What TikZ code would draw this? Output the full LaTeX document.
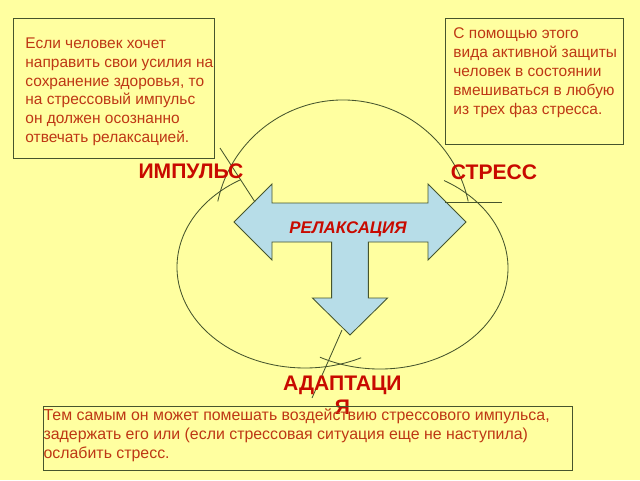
\documentclass[tikz,border=0pt]{standalone}
\usepackage{fontspec}
\setmainfont{Liberation Sans}
\definecolor{slide}{RGB}{255,255,160}
\definecolor{edge}{RGB}{70,85,45}
\definecolor{notered}{RGB}{190,55,20}
\definecolor{phasered}{RGB}{200,10,0}
\definecolor{arrowblue}{RGB}{183,221,232}

\begin{document}
\begin{tikzpicture}
  [line width=.6pt,draw=edge,every node/.style={inner sep=0pt},
   note/.style={align=left,anchor=north west,text=notered,
     font=\fontsize{11}{13.5}\selectfont},
   phase/.style={text=phasered,font=\fontsize{15}{17.5}\selectfont\bfseries},
   frame/.style={draw=edge,rectangle}]
  \fill[slide] (0,0) rectangle (16,12);
  \useasboundingbox (0,0) rectangle (16,12);

  % cycle of three arcs
  \draw[edge] (8.575,6.3) ++(168:3.2) arc[start angle=168,end angle=12,radius=3.2];
  \draw[edge] (7.625,5.325) ++(120:3.2 and 2.525)
    arc[start angle=120,end angle=296,x radius=3.2,y radius=2.525];
  \draw[edge] (9.5,5.3) ++(60:3.2 and 2.525)
    arc[start angle=60,end angle=-118,x radius=3.2,y radius=2.525];

  % T arrow
  \draw[edge,fill=arrowblue] (5.85,6.45) -- (6.8,7.4) -- (6.8,6.925) -- (10.7,6.925)
    -- (10.7,7.4) -- (11.65,6.45) -- (10.7,5.5) -- (10.7,5.95) -- (9.21,5.95)
    -- (9.21,4.55) -- (9.69,4.55) -- (8.75,3.625) -- (7.81,4.55) -- (8.29,4.55)
    -- (8.29,5.95) -- (6.8,5.95) -- (6.8,5.5) -- cycle;
  \node[text=phasered,font=\fontsize{12}{14}\selectfont\bfseries\itshape] (relax) at (8.7,6.27) {РЕЛАКСАЦИЯ};

  \coordinate (imp) at (6.375,6.95); \coordinate (impend) at (5.5,8.3);
  \coordinate (str) at (11.125,6.95); \coordinate (strend) at (12.55,6.95);
  \coordinate (ada) at (8.55,3.75); \coordinate (adaend) at (7.8,2.05);
  \foreach \from/\to in {imp/impend,str/strend,ada/adaend} \draw[edge] (\from) -- (\to);

  \node[phase] (impulse) at (4.775,7.725) {ИМПУЛЬС};
  \node[phase] (stress) at (12.35,7.7) {СТРЕСС};
  \node[phase,align=center,anchor=north] (adapt) at (8.56,2.62) {АДАПТАЦИ\\Я};

  % boxes and notes
  \node[frame,minimum width=5.025cm,minimum height=3.5cm] (box1) at (2.8375,9.8) {};
  \node[frame,minimum width=4.45cm,minimum height=3.15cm] (box2) at (13.35,9.975) {};
  \node[frame,minimum width=13.225cm,minimum height=1.6cm] (box3) at (7.6875,1.05) {};
  \node[note] (note1) at (0.625,11.075) {Если человек хочет\\направить свои усилия на\\сохранение здоровья, то\\на стрессовый импульс\\он должен осознанно\\отвечать релаксацией.};
  \node[note] (note2) at (11.325,11.325) {С помощью этого\\вида активной защиты\\человек в состоянии\\вмешиваться в любую\\из трех фаз стресса.};
  \node[note,font=\fontsize{11.3}{13.5}\selectfont] (note3) at (1.08,1.8) {Тем самым он может помешать воздействию стрессового импульса,\\задержать его или (если стрессовая ситуация еще не наступила)\\ослабить стресс.};
\end{tikzpicture}
\end{document}
